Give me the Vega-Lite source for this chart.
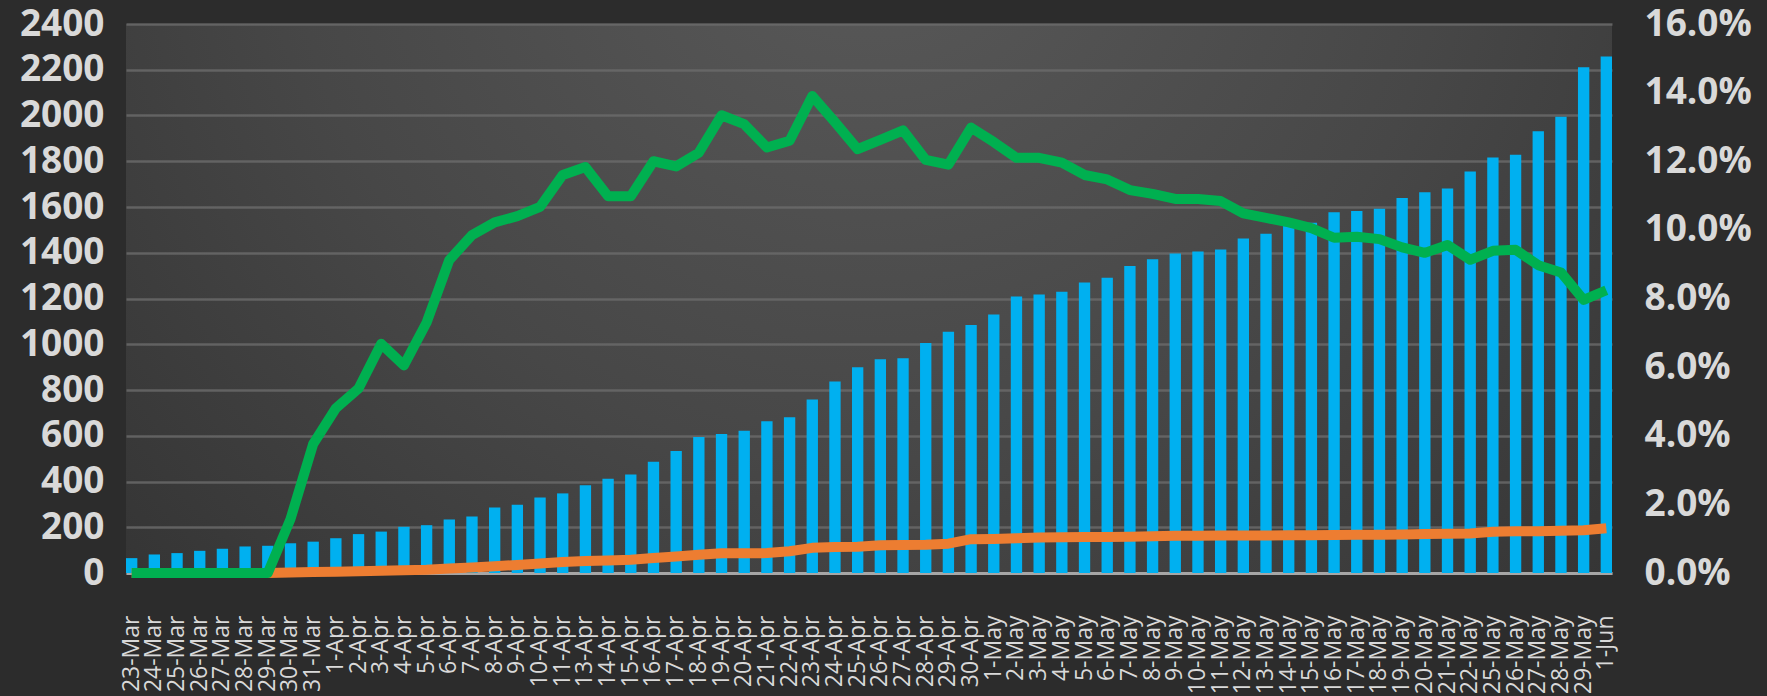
{
  "$schema": "https://vega.github.io/schema/vega-lite/v6.json",
  "autosize": {"type": "none"},
  "width": 1486,
  "height": 549,
  "padding": {"left": 126, "top": 24, "right": 155, "bottom": 123},
  "background": "#2c2c2c",
  "config": {
    "view": {
      "stroke": null,
      "fill": {
        "gradient": "radial",
        "x1": 0.5, "y1": 0.22, "r1": 0,
        "x2": 0.5, "y2": 0.22, "r2": 0.78,
        "stops": [
          {"offset": 0, "color": "#5a5a5a"},
          {"offset": 0.5, "color": "#474747"},
          {"offset": 1, "color": "#2f2f2f"}
        ]
      }
    }
  },
  "data": {
    "values": [
      {"d": "23-Mar", "cases": 65, "deaths": 0, "rate": 0},
      {"d": "24-Mar", "cases": 81, "deaths": 0, "rate": 0},
      {"d": "25-Mar", "cases": 87, "deaths": 0, "rate": 0},
      {"d": "26-Mar", "cases": 97, "deaths": 0, "rate": 0},
      {"d": "27-Mar", "cases": 106, "deaths": 0, "rate": 0},
      {"d": "28-Mar", "cases": 116, "deaths": 0, "rate": 0},
      {"d": "29-Mar", "cases": 119, "deaths": 0, "rate": 0},
      {"d": "30-Mar", "cases": 130, "deaths": 2, "rate": 0.0157},
      {"d": "31-Mar", "cases": 137, "deaths": 4, "rate": 0.0376},
      {"d": "1-Apr", "cases": 152, "deaths": 6, "rate": 0.048},
      {"d": "2-Apr", "cases": 170, "deaths": 8, "rate": 0.0538},
      {"d": "3-Apr", "cases": 181, "deaths": 10, "rate": 0.0668},
      {"d": "4-Apr", "cases": 202, "deaths": 12, "rate": 0.0605},
      {"d": "5-Apr", "cases": 209, "deaths": 14, "rate": 0.073},
      {"d": "6-Apr", "cases": 234, "deaths": 20, "rate": 0.0912},
      {"d": "7-Apr", "cases": 247, "deaths": 24, "rate": 0.0985},
      {"d": "8-Apr", "cases": 286, "deaths": 30, "rate": 0.1022},
      {"d": "9-Apr", "cases": 298, "deaths": 35, "rate": 0.104},
      {"d": "10-Apr", "cases": 330, "deaths": 42, "rate": 0.1067},
      {"d": "11-Apr", "cases": 348, "deaths": 48, "rate": 0.116},
      {"d": "13-Apr", "cases": 384, "deaths": 52, "rate": 0.1183},
      {"d": "14-Apr", "cases": 412, "deaths": 55, "rate": 0.1098},
      {"d": "15-Apr", "cases": 431, "deaths": 58, "rate": 0.1098},
      {"d": "16-Apr", "cases": 486, "deaths": 66, "rate": 0.12},
      {"d": "17-Apr", "cases": 533, "deaths": 72, "rate": 0.1185},
      {"d": "18-Apr", "cases": 595, "deaths": 80, "rate": 0.1225},
      {"d": "19-Apr", "cases": 608, "deaths": 86, "rate": 0.1334},
      {"d": "20-Apr", "cases": 622, "deaths": 86, "rate": 0.1308},
      {"d": "21-Apr", "cases": 663, "deaths": 87, "rate": 0.124},
      {"d": "22-Apr", "cases": 681, "deaths": 95, "rate": 0.126},
      {"d": "23-Apr", "cases": 759, "deaths": 110, "rate": 0.139},
      {"d": "24-Apr", "cases": 837, "deaths": 114, "rate": 0.1314},
      {"d": "25-Apr", "cases": 900, "deaths": 115, "rate": 0.1235},
      {"d": "26-Apr", "cases": 934, "deaths": 121, "rate": 0.1262},
      {"d": "27-Apr", "cases": 939, "deaths": 122, "rate": 0.129},
      {"d": "28-Apr", "cases": 1006, "deaths": 123, "rate": 0.1204},
      {"d": "29-Apr", "cases": 1055, "deaths": 128, "rate": 0.119},
      {"d": "30-Apr", "cases": 1084, "deaths": 148, "rate": 0.1298},
      {"d": "1-May", "cases": 1130, "deaths": 149, "rate": 0.1256},
      {"d": "2-May", "cases": 1209, "deaths": 152, "rate": 0.121},
      {"d": "3-May", "cases": 1217, "deaths": 155, "rate": 0.121},
      {"d": "4-May", "cases": 1230, "deaths": 156, "rate": 0.1196},
      {"d": "5-May", "cases": 1270, "deaths": 157, "rate": 0.116},
      {"d": "6-May", "cases": 1291, "deaths": 157, "rate": 0.1147},
      {"d": "7-May", "cases": 1342, "deaths": 159, "rate": 0.1116},
      {"d": "8-May", "cases": 1372, "deaths": 161, "rate": 0.1105},
      {"d": "9-May", "cases": 1397, "deaths": 163, "rate": 0.109},
      {"d": "10-May", "cases": 1405, "deaths": 163, "rate": 0.109},
      {"d": "11-May", "cases": 1414, "deaths": 164, "rate": 0.1084},
      {"d": "12-May", "cases": 1462, "deaths": 164, "rate": 0.1048},
      {"d": "13-May", "cases": 1483, "deaths": 164, "rate": 0.1035},
      {"d": "14-May", "cases": 1517, "deaths": 165, "rate": 0.1022},
      {"d": "15-May", "cases": 1531, "deaths": 165, "rate": 0.1005},
      {"d": "16-May", "cases": 1577, "deaths": 166, "rate": 0.0977},
      {"d": "17-May", "cases": 1583, "deaths": 167, "rate": 0.098},
      {"d": "18-May", "cases": 1592, "deaths": 167, "rate": 0.0973},
      {"d": "19-May", "cases": 1639, "deaths": 168, "rate": 0.0949},
      {"d": "20-May", "cases": 1664, "deaths": 170, "rate": 0.0933},
      {"d": "21-May", "cases": 1681, "deaths": 172, "rate": 0.0956},
      {"d": "22-May", "cases": 1755, "deaths": 173, "rate": 0.0913},
      {"d": "25-May", "cases": 1816, "deaths": 180, "rate": 0.0939},
      {"d": "26-May", "cases": 1828, "deaths": 182, "rate": 0.0942},
      {"d": "27-May", "cases": 1931, "deaths": 183, "rate": 0.0897},
      {"d": "28-May", "cases": 1994, "deaths": 185, "rate": 0.0876},
      {"d": "29-May", "cases": 2211, "deaths": 187, "rate": 0.0796},
      {"d": "1-Jun", "cases": 2258, "deaths": 196, "rate": 0.0824}
    ]
  },
  "encoding": {
    "x": {
      "field": "d",
      "type": "ordinal",
      "sort": null,
      "scale": {"paddingInner": 0.5, "paddingOuter": 0},
      "axis": {
        "title": null,
        "labelAngle": -90,
        "labelFont": "Open Sans",
        "labelFontSize": 23,
        "labelColor": "#d9d9d9",
        "labelPadding": 42,
        "labelOverlap": false,
        "labelBound": false,
        "ticks": false,
        "domain": true,
        "domainColor": "#a6a6a6",
        "domainWidth": 3,
        "grid": false
      }
    }
  },
  "layer": [
    {
      "encoding": {
        "y": {
          "type": "quantitative",
          "scale": {"domain": [0, 2400], "nice": false},
          "axis": {
            "title": null,
            "values": [0, 200, 400, 600, 800, 1000, 1200, 1400, 1600, 1800, 2000, 2200, 2400],
            "format": "d",
            "labelFont": "Open Sans",
            "labelFontWeight": "bold",
            "labelFontSize": 37,
            "labelColor": "#d9d9d9",
            "labelPadding": 22,
            "domain": false,
            "ticks": false,
            "grid": true,
            "gridColor": "#6c6c6c",
            "gridWidth": 2.5,
            "gridOpacity": 0.8
          }
        }
      },
      "layer": [
        {
          "mark": {"type": "bar", "color": "#00B0F0"},
          "encoding": {"y": {"field": "cases"}}
        },
        {
          "mark": {"type": "line", "color": "#ED7D31", "strokeWidth": 10, "strokeJoin": "round"},
          "encoding": {"y": {"field": "deaths"}}
        }
      ]
    },
    {
      "mark": {"type": "line", "color": "#00B050", "strokeWidth": 10, "strokeJoin": "round"},
      "encoding": {
        "y": {
          "field": "rate",
          "type": "quantitative",
          "scale": {"domain": [0, 0.16], "nice": false},
          "axis": {
            "orient": "right",
            "title": null,
            "values": [0, 0.02, 0.04, 0.06, 0.08, 0.1, 0.12, 0.14, 0.16],
            "format": ".1%",
            "labelFont": "Open Sans",
            "labelFontWeight": "bold",
            "labelFontSize": 37,
            "labelColor": "#d9d9d9",
            "labelPadding": 32,
            "domain": false,
            "ticks": false,
            "grid": false
          }
        }
      }
    }
  ],
  "resolve": {"scale": {"y": "independent"}}
}
